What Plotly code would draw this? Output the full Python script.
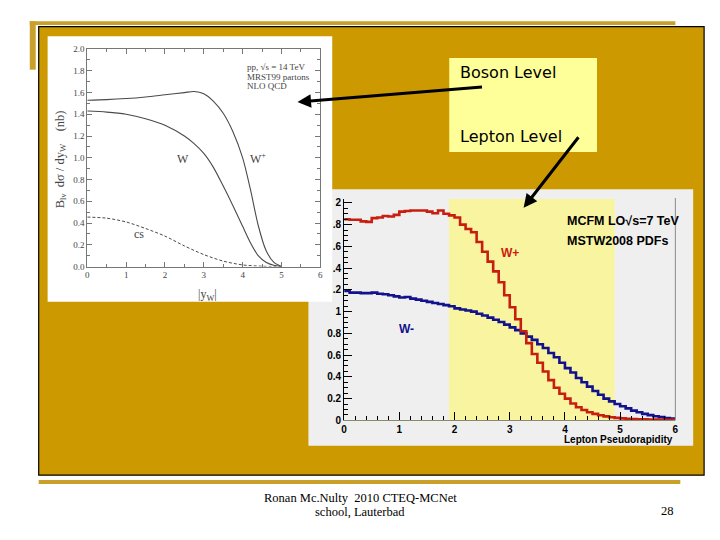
import numpy as np
import plotly.graph_objects as go

W, H = 720, 540
def px(x): return x / W
def py(y): return 1 - y / H

# ---------------- Left chart: boson level (MRST99, 14 TeV) ----------------
yw_grid = [0, 0.5, 1.0, 1.5, 2.0, 2.5, 2.75, 3.0, 3.25, 3.5, 3.75, 4.0, 4.2, 4.4, 4.6, 4.8, 5.0]
wplus_boson = [1.53, 1.535, 1.545, 1.56, 1.58, 1.60, 1.61, 1.59, 1.52, 1.41, 1.24, 1.00, 0.71, 0.38, 0.15, 0.04, 0.0]
wminus_boson = [1.43, 1.42, 1.40, 1.36, 1.30, 1.20, 1.13, 1.04, 0.91, 0.74, 0.56, 0.37, 0.22, 0.10, 0.04, 0.012, 0.0]
cs_grid = [0, 0.5, 1.0, 1.5, 2.0, 2.5, 3.0, 3.5, 4.0, 4.5, 5.0]
cs_boson = [0.455, 0.445, 0.41, 0.35, 0.28, 0.19, 0.11, 0.05, 0.015, 0.003, 0.0]

# ---------------- Right chart: lepton level (MCFM LO, 7 TeV), 0.1 bins ----------------
eta_edges = np.round(np.arange(0, 6.0001, 0.1), 2)
wplus_lepton = [1.85, 1.845, 1.845, 1.83, 1.825, 1.86, 1.865, 1.88, 1.875, 1.89,
                1.92, 1.925, 1.93, 1.93, 1.93, 1.92, 1.905, 1.93, 1.90, 1.885,
                1.865, 1.80, 1.76, 1.73, 1.64, 1.55, 1.46, 1.37, 1.27, 1.15,
                1.04, 0.93, 0.82, 0.71, 0.61, 0.53, 0.45, 0.37, 0.30, 0.245,
                0.20, 0.155, 0.12, 0.095, 0.075, 0.06, 0.047, 0.037, 0.029, 0.023,
                0.018, 0.015, 0.012, 0.010, 0.009, 0.008, 0.007, 0.006, 0.006, 0.005]
wminus_lepton = [1.19, 1.175, 1.175, 1.17, 1.17, 1.175, 1.165, 1.16, 1.15, 1.14,
                 1.13, 1.135, 1.12, 1.11, 1.10, 1.09, 1.08, 1.07, 1.06, 1.05,
                 1.03, 1.02, 1.01, 1.00, 0.98, 0.965, 0.945, 0.925, 0.905, 0.88,
                 0.855, 0.83, 0.80, 0.77, 0.74, 0.70, 0.665, 0.62, 0.58, 0.53,
                 0.48, 0.44, 0.39, 0.35, 0.31, 0.27, 0.235, 0.20, 0.175, 0.15,
                 0.13, 0.11, 0.09, 0.075, 0.06, 0.048, 0.038, 0.03, 0.022, 0.016]
band_eta = [1.9, 4.9]

right_ytickvals = [0, 0.2, 0.4, 0.6, 0.8, 1.0, 1.2, 1.4, 1.6, 1.8, 2.0]
right_yticktext = ["0", "0.2", "0.4", "0.6", "0.8", "1", ".2", ".4", ".6", ".8", "2"]

fig = go.Figure()

grey = "#4a4a4a"
fig.add_trace(go.Scatter(x=yw_grid, y=wplus_boson, mode="lines", xaxis="x", yaxis="y",
                         line=dict(color=grey, width=1.1, shape="spline", smoothing=0.8)))
fig.add_trace(go.Scatter(x=yw_grid, y=wminus_boson, mode="lines", xaxis="x", yaxis="y",
                         line=dict(color=grey, width=1.1, shape="spline", smoothing=0.8)))
fig.add_trace(go.Scatter(x=cs_grid, y=cs_boson, mode="lines", xaxis="x", yaxis="y",
                         line=dict(color=grey, width=1.0, shape="spline", smoothing=0.8, dash="3px,2px")))

fig.add_trace(go.Scatter(x=eta_edges, y=wminus_lepton + [wminus_lepton[-1]], mode="lines",
                         xaxis="x2", yaxis="y2", line=dict(color="#12128c", width=2.6, shape="hv")))
fig.add_trace(go.Scatter(x=eta_edges, y=wplus_lepton + [wplus_lepton[-1]], mode="lines",
                         xaxis="x2", yaxis="y2", line=dict(color="#c81e10", width=2.6, shape="hv")))

gold = "#CC9900"
line_gold = "#C9A12A"
shapes = [
    dict(type="rect", xref="paper", yref="paper", x0=px(27), x1=px(678), y0=py(20.5), y1=py(16.5),
         fillcolor=line_gold, line=dict(width=0), layer="below"),
    dict(type="rect", xref="paper", yref="paper", x0=px(27), x1=px(33), y0=py(66), y1=py(16.5),
         fillcolor=line_gold, line=dict(width=0), layer="below"),
    dict(type="rect", xref="paper", yref="paper", x0=px(36), x1=px(707), y0=py(480), y1=py(22),
         fillcolor=gold, line=dict(color="black", width=1.2), layer="below"),
    dict(type="rect", xref="paper", yref="paper", x0=px(36), x1=px(683), y0=py(489), y1=py(485),
         fillcolor=line_gold, line=dict(width=0), layer="below"),
    dict(type="rect", xref="paper", yref="paper", x0=px(308), x1=px(696), y0=py(450), y1=py(188),
         fillcolor="#EFEFEF", line=dict(width=0), layer="below"),
    dict(type="rect", xref="paper", yref="paper", x0=px(45), x1=px(332), y0=py(303), y1=py(32),
         fillcolor="white", line=dict(width=0), layer="below"),
    dict(type="rect", xref="paper", yref="paper", x0=px(450), x1=px(599), y0=py(150), y1=py(54),
         fillcolor="#FFFF99", line=dict(width=0), layer="below"),
    dict(type="rect", xref="x2", yref="paper", x0=band_eta[0], x1=band_eta[1], y0=py(424), y1=py(198),
         fillcolor="#F8F4A0", line=dict(width=0), layer="below"),
    dict(type="line", xref="paper", yref="paper", x0=px(678), x1=px(678), y0=py(424), y1=py(197),
         line=dict(color="#8a8a8a", width=1)),
]

serif = "Liberation Serif"
sans = "Liberation Sans"
def txt(x, y, s, size, color="black", family=serif, xanchor="center", yanchor="middle", **kw):
    return dict(x=px(x), y=py(y), xref="paper", yref="paper", text=s, showarrow=False,
                font=dict(size=size, color=color, family=family), xanchor=xanchor, yanchor=yanchor, **kw)

annotations = [
    # left chart texts
    txt(244, 63, "pp, √s = 14 TeV", 9, "#444", xanchor="left"),
    txt(244, 73, "MRST99 partons", 9, "#444", xanchor="left"),
    txt(244, 83, "NLO QCD", 9, "#444", xanchor="left"),
    txt(182, 157, "W", 12, "#444"),
    txt(257, 157, "W<sup>+</sup>", 12, "#444"),
    txt(137, 234, "cs", 12, "#444"),
    txt(58, 158, "B<sub>lν</sub>  dσ / dy<sub>W</sub>    (nb)", 12.5, "#444", textangle=-90),
    txt(206, 296, "|y<sub>W</sub>|", 12, "#444"),
    # right chart texts
    txt(567, 220, "<b>MCFM LO√s=7 TeV</b>", 12.5, "black", family=sans, xanchor="left"),
    txt(567, 241, "<b>MSTW2008 PDFs</b>", 12.5, "black", family=sans, xanchor="left"),
    txt(511, 253, "<b>W+</b>", 12, "#c81e10", family=sans),
    txt(407, 331, "<b>W-</b>", 12, "#12128c", family=sans),
    txt(678, 444, "<b>Lepton Pseudorapidity</b>", 10, "black", family=sans, xanchor="right"),
    # call-out box
    txt(459, 69, "Boson Level", 16, "black", family="DejaVu Sans", xanchor="left"),
    txt(459, 134, "Lepton Level", 16, "black", family="DejaVu Sans", xanchor="left"),
    # footer
    txt(360, 503, "Ronan Mc.Nulty  2010 CTEQ-MCNet", 12.5, "black"),
    txt(360, 518, "school, Lauterbad", 12.5, "black"),
    txt(670, 517, "28", 12.5, "black"),
    # arrows
    dict(x=px(297), y=py(99), xref="paper", yref="paper", text="", showarrow=True,
         ax=186, ay=-15, axref="pixel", ayref="pixel", arrowhead=2, arrowsize=0.9,
         arrowwidth=3, arrowcolor="black"),
    dict(x=px(525), y=py(207), xref="paper", yref="paper", text="", showarrow=True,
         ax=56, ay=-72, axref="pixel", ayref="pixel", arrowhead=2, arrowsize=0.9,
         arrowwidth=3, arrowcolor="black"),
]

left_axis = dict(showgrid=False, zeroline=False, showline=True, linecolor="#777", linewidth=1,
                 mirror="ticks", ticks="inside", tickcolor="#777", ticklen=5,
                 tickfont=dict(family=serif, size=9, color="#444"))

fig.update_layout(
    width=W, height=H, autosize=False,
    margin=dict(l=0, r=0, t=0, b=0),
    paper_bgcolor="white", plot_bgcolor="rgba(0,0,0,0)",
    showlegend=False,
    shapes=shapes, annotations=annotations,
    xaxis=dict(domain=[px(85), px(320)], range=[0, 6], anchor="y", dtick=1,
               minor=dict(dtick=0.5, ticks="inside", ticklen=3, tickcolor="#777"), **left_axis),
    yaxis=dict(domain=[py(267), py(45)], range=[0, 2], anchor="x", dtick=0.2, tickformat=".1f",
               minor=dict(dtick=0.1, ticks="inside", ticklen=3, tickcolor="#777"), **left_axis),
    xaxis2=dict(domain=[px(344), px(678)], range=[0, 6], anchor="y2", dtick=1,
                showgrid=False, zeroline=False, showline=True, linecolor="#8a8a6a", linewidth=1,
                ticks="inside", ticklen=8, tickcolor="black",
                minor=dict(dtick=0.2, ticks="inside", ticklen=4, tickcolor="black"),
                tickfont=dict(family=sans, size=10, color="black", weight="bold")),
    yaxis2=dict(domain=[py(424), py(198)], range=[0, 2.036], anchor="x2",
                tickvals=right_ytickvals, ticktext=right_yticktext,
                showgrid=False, zeroline=False, showline=True, linecolor="black", linewidth=1,
                ticks="inside", ticklen=8, tickcolor="black",
                minor=dict(dtick=0.05, ticks="inside", ticklen=4, tickcolor="black"),
                tickfont=dict(family=sans, size=10, color="black", weight="bold")),
)

fig.write_html("out.html", config={"displayModeBar": False},
               post_script="document.body.style.margin='0px';document.body.style.overflow='hidden';")
